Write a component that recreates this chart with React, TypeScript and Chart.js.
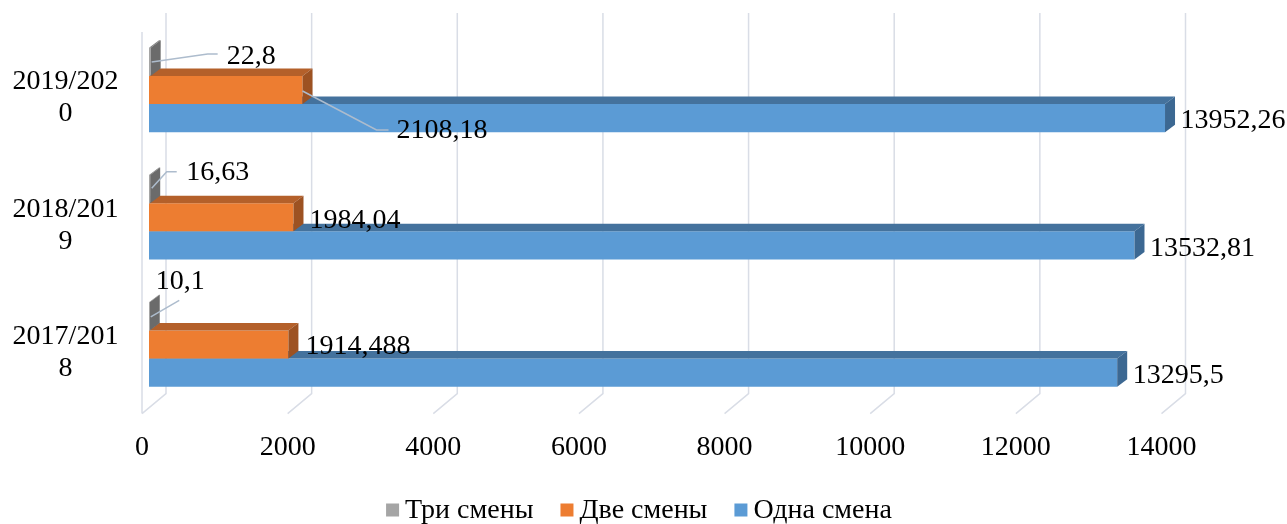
import { useEffect, useRef } from "react";
import { Chart, registerables } from "chart.js";

Chart.register(...registerables);

// ---- data ----
const categories = ["2017/2018", "2018/2019", "2019/2020"];
const categoryTickLabels = [
  ["2017/201", "8"],
  ["2018/201", "9"],
  ["2019/202", "0"],
];
const seriesNames = ["Три смены", "Две смены", "Одна смена"];
const threeShifts = [10.1, 16.63, 22.8];
const twoShifts = [1914.488, 1984.04, 2108.18];
const oneShift = [13295.5, 13532.81, 13952.26];
const xMin = 0;
const xMax = 14000;
const xStep = 2000;

// ---- styles ----
const FONT = "'Liberation Serif', 'Times New Roman', serif";
const FONT_SIZE = 28;
const frontColors = ["#a5a5a5", "#ed7d31", "#5b9bd5"];
const topColors = ["#808080", "#b4602a", "#44729d"];
const sideColors = ["#6b6b6b", "#9d5222", "#3c6892"];
const GRID = "#d9dde6";
const LEADER = "#adbccd";

// 3D depth offsets (px)
const BAR_DX = 10;
const BAR_DY = 7.5;
const WALL_DX = 17;
const WALL_DY = 14.5;
const WALL_TOP_DY = 13.4;
const FLOOR_DX = -7;
const FLOOR_DY = 5.5;

type Place = { lx: number; ly: number; leader?: [number, number][] };
// label placement relative to bar end (x) and bar centre (y), per dataset / category
const labelPlacement: Place[][] = [
  [
    { lx: 6, ly: -35, leader: [[1, 0.5], [29.5, -16]] },
    { lx: 36, ly: -16, leader: [[1.5, -1], [16.5, -17.5], [26.5, -17.5]] },
    { lx: 76, ly: -5, leader: [[1, 0], [57, -8], [67, -8]] },
  ],
  [
    { lx: 17, ly: 2 },
    { lx: 16, ly: 3 },
    { lx: 94, ly: 41, leader: [[0, 1], [74, 40], [86, 40]] },
  ],
  [
    { lx: 15.5, ly: 3 },
    { lx: 15.5, ly: 3 },
    { lx: 15.5, ly: 3 },
  ],
];

const fmt = (v: number) => String(v).replace(".", ",");

const wallPlugin = {
  id: "wall3d",
  beforeDatasetsDraw(chart: any) {
    const { ctx, chartArea: ca } = chart;
    const xs = chart.scales.x;
    ctx.save();
    ctx.strokeStyle = GRID;
    ctx.lineWidth = 1.5;
    ctx.beginPath();
    ctx.moveTo(ca.left + FLOOR_DX, ca.top + FLOOR_DY);
    ctx.lineTo(ca.left + FLOOR_DX, ca.bottom + FLOOR_DY);
    xs.ticks.forEach((t: any) => {
      const px = xs.getPixelForValue(t.value);
      ctx.moveTo(px + WALL_DX, ca.top - WALL_TOP_DY);
      ctx.lineTo(px + WALL_DX, ca.bottom - WALL_DY);
      ctx.lineTo(px + FLOOR_DX, ca.bottom + FLOOR_DY);
    });
    ctx.stroke();
    ctx.restore();
  },
};

const bar3dPlugin = {
  id: "bar3d",
  afterDatasetDraw(chart: any, args: any) {
    const { ctx } = chart;
    const i = args.index;
    ctx.save();
    args.meta.data.forEach((bar: any) => {
      const { x, y, base, height } = bar.getProps(["x", "y", "base", "height"], true);
      const top = y - height / 2;
      const bottom = y + height / 2;
      ctx.fillStyle = topColors[i];
      ctx.beginPath();
      ctx.moveTo(base, top);
      ctx.lineTo(x, top);
      ctx.lineTo(x + BAR_DX, top - BAR_DY);
      ctx.lineTo(base + BAR_DX, top - BAR_DY);
      ctx.closePath();
      ctx.fill();
      ctx.fillStyle = sideColors[i];
      ctx.beginPath();
      ctx.moveTo(x, top);
      ctx.lineTo(x, bottom);
      ctx.lineTo(x + BAR_DX, bottom - BAR_DY);
      ctx.lineTo(x + BAR_DX, top - BAR_DY);
      ctx.closePath();
      ctx.fill();
    });
    ctx.restore();
  },
};

const labelsPlugin = {
  id: "labels3d",
  afterDraw(chart: any) {
    const { ctx } = chart;
    ctx.save();
    ctx.font = `${FONT_SIZE}px ${FONT}`;
    ctx.textBaseline = "middle";
    ctx.textAlign = "left";
    chart.data.datasets.forEach((ds: any, i: number) => {
      const meta = chart.getDatasetMeta(i);
      meta.data.forEach((bar: any, j: number) => {
        const { x, y } = bar.getProps(["x", "y"], true);
        const p = labelPlacement[i][j];
        if (p.leader) {
          ctx.strokeStyle = LEADER;
          ctx.lineWidth = 1.5;
          ctx.beginPath();
          p.leader.forEach(([dx, dy], k) => {
            if (k === 0) ctx.moveTo(x + dx, y + dy);
            else ctx.lineTo(x + dx, y + dy);
          });
          ctx.stroke();
        }
        ctx.fillStyle = "#000";
        ctx.fillText(fmt(ds.data[j]), x + p.lx, y + p.ly);
      });
    });

    // legend
    const box = 13;
    const boxGap = 6;
    const itemGap = 27;
    const widths = seriesNames.map((n) => box + boxGap + ctx.measureText(n).width);
    const total = widths.reduce((a, b) => a + b, 0) + itemGap * (seriesNames.length - 1);
    let lx = 639 - total / 2;
    const ly = 510.5;
    seriesNames.forEach((n, i) => {
      ctx.fillStyle = frontColors[i];
      ctx.fillRect(lx, ly - box / 2 - 0.5, box, box);
      ctx.fillStyle = "#000";
      ctx.fillText(n, lx + box + boxGap, ly);
      lx += widths[i] + itemGap;
    });
    ctx.restore();
  },
};

export default function App() {
  const ref = useRef<HTMLCanvasElement>(null);
  useEffect(() => {
    const canvas = ref.current;
    if (!canvas) return;
    const datasetsValues = [threeShifts, twoShifts, oneShift];
    const chart = new Chart(canvas, {
      type: "bar",
      data: {
        labels: categoryTickLabels,
        datasets: seriesNames.map((name, i) => ({
          label: name,
          data: datasetsValues[i],
          backgroundColor: frontColors[i],
          borderWidth: 0,
          categoryPercentage: 0.663,
          barPercentage: 1,
        })),
      },
      options: {
        indexAxis: "y",
        responsive: false,
        animation: false,
        events: [],
        devicePixelRatio: 1,
        layout: { padding: { top: 26.4, right: 118.5, bottom: 0, left: 0 } },
        plugins: {
          legend: { display: false },
          tooltip: { enabled: false },
          title: { display: false },
        },
        scales: {
          x: {
            type: "linear",
            min: xMin,
            max: xMax,
            grid: { display: false, drawTicks: false },
            border: { display: false },
            ticks: {
              stepSize: xStep,
              padding: 23,
              labelOffset: -7,
              color: "#000",
              maxRotation: 0,
              autoSkip: false,
              callback: (v: any) => String(v),
              font: { family: FONT, size: FONT_SIZE, lineHeight: 1.15 },
            },
            afterFit: (s: any) => {
              s.height = 524 - 408.1;
              s.paddingLeft = 0;
              s.paddingRight = 0;
            },
          },
          y: {
            type: "category",
            reverse: true,
            grid: { display: false, drawTicks: false },
            border: { display: false },
            ticks: {
              padding: 30.6,
              labelOffset: 8,
              crossAlign: "center",
              color: "#000",
              autoSkip: false,
              font: { family: FONT, size: FONT_SIZE, lineHeight: 1.15 },
            },
            afterFit: (s: any) => {
              s.width = 149;
              s.paddingTop = 0;
              s.paddingBottom = 0;
            },
          },
        },
      } as any,
      plugins: [wallPlugin, bar3dPlugin, labelsPlugin],
    });
    return () => chart.destroy();
  }, []);
  return (
    <div style={{ position: "fixed", left: 0, top: 0, width: 1287, height: 524, background: "#fff" }}>
      <canvas ref={ref} width={1287} height={524} style={{ display: "block", width: 1287, height: 524 }} />
    </div>
  );
}
